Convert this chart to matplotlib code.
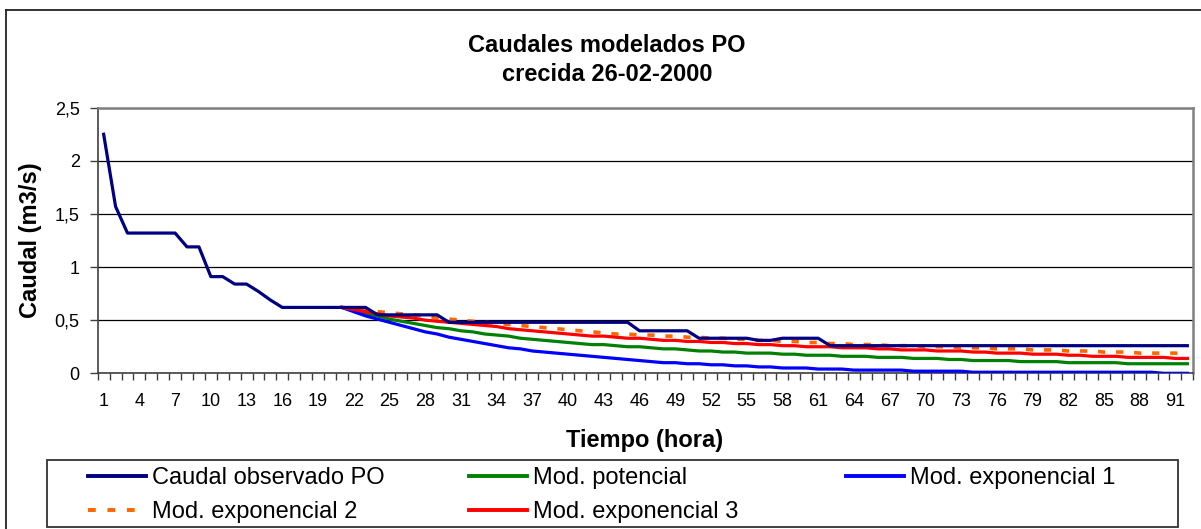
import matplotlib
matplotlib.use('Agg')
import matplotlib.pyplot as plt
from matplotlib.patches import Rectangle
from matplotlib.lines import Line2D

# ---------------- data ----------------
hours = list(range(1, 93))
observed = [2.25, 1.57, 1.32, 1.32, 1.32, 1.32, 1.32, 1.19, 1.19, 0.91,
            0.91, 0.84, 0.84, 0.77, 0.69, 0.62, 0.62, 0.62, 0.62, 0.62,
            0.62, 0.62, 0.62, 0.55, 0.55, 0.55, 0.55, 0.55, 0.55, 0.48,
            0.48, 0.48, 0.48, 0.48, 0.48, 0.48, 0.48, 0.48, 0.48, 0.48,
            0.48, 0.48, 0.48, 0.48, 0.48, 0.40, 0.40, 0.40, 0.40, 0.40,
            0.33, 0.33, 0.33, 0.33, 0.33, 0.31, 0.31, 0.33, 0.33, 0.33,
            0.33, 0.26, 0.26, 0.26, 0.26, 0.26, 0.26, 0.26, 0.26, 0.26,
            0.26, 0.26, 0.26, 0.26, 0.26, 0.26, 0.26, 0.26, 0.26, 0.26,
            0.26, 0.26, 0.26, 0.26, 0.26, 0.26, 0.26, 0.26, 0.26, 0.26,
            0.26, 0.26]

model_hours = list(range(21, 93))
mod_potencial = [0.62, 0.59, 0.56, 0.54, 0.51, 0.49, 0.47, 0.45, 0.43, 0.42,
                 0.40, 0.39, 0.37, 0.36, 0.35, 0.33, 0.32, 0.31, 0.30, 0.29,
                 0.28, 0.27, 0.27, 0.26, 0.25, 0.25, 0.24, 0.23, 0.23, 0.22,
                 0.21, 0.21, 0.20, 0.20, 0.19, 0.19, 0.19, 0.18, 0.18, 0.17,
                 0.17, 0.17, 0.16, 0.16, 0.16, 0.15, 0.15, 0.15, 0.14, 0.14,
                 0.14, 0.13, 0.13, 0.12, 0.12, 0.12, 0.12, 0.11, 0.11, 0.11,
                 0.11, 0.10, 0.10, 0.10, 0.10, 0.10, 0.09, 0.09, 0.09, 0.09,
                 0.09, 0.09]
mod_exp1 = [0.62, 0.58, 0.54, 0.51, 0.48, 0.45, 0.42, 0.39, 0.37, 0.34,
            0.32, 0.30, 0.28, 0.26, 0.24, 0.23, 0.21, 0.20, 0.19, 0.18,
            0.17, 0.16, 0.15, 0.14, 0.13, 0.12, 0.11, 0.10, 0.10, 0.09,
            0.09, 0.08, 0.08, 0.07, 0.07, 0.06, 0.06, 0.05, 0.05, 0.05,
            0.04, 0.04, 0.04, 0.03, 0.03, 0.03, 0.03, 0.03, 0.02, 0.02,
            0.02, 0.02, 0.02, 0.01, 0.01, 0.01, 0.01, 0.01, 0.01, 0.01,
            0.01, 0.01, 0.01, 0.01, 0.01, 0.01, 0.01, 0.01, 0.01, 0.00,
            0.00, 0.00]
mod_exp2 = [0.62, 0.61, 0.60, 0.58, 0.57, 0.56, 0.55, 0.54, 0.52, 0.51,
            0.50, 0.49, 0.48, 0.47, 0.46, 0.45, 0.44, 0.43, 0.42, 0.41,
            0.40, 0.39, 0.38, 0.37, 0.37, 0.36, 0.36, 0.35, 0.35, 0.34,
            0.34, 0.33, 0.33, 0.32, 0.32, 0.31, 0.31, 0.30, 0.30, 0.29,
            0.29, 0.28, 0.28, 0.27, 0.27, 0.27, 0.26, 0.26, 0.26, 0.25,
            0.25, 0.25, 0.24, 0.24, 0.24, 0.23, 0.23, 0.23, 0.22, 0.22,
            0.22, 0.21, 0.21, 0.21, 0.20, 0.20, 0.20, 0.19, 0.19, 0.19,
            0.19, 0.18]
mod_exp3 = [0.62, 0.60, 0.58, 0.56, 0.54, 0.53, 0.52, 0.50, 0.49, 0.48,
            0.47, 0.46, 0.45, 0.44, 0.42, 0.41, 0.40, 0.39, 0.38, 0.37,
            0.36, 0.35, 0.35, 0.34, 0.33, 0.33, 0.32, 0.31, 0.31, 0.30,
            0.30, 0.29, 0.29, 0.28, 0.28, 0.27, 0.27, 0.26, 0.26, 0.25,
            0.25, 0.25, 0.24, 0.24, 0.24, 0.23, 0.23, 0.22, 0.22, 0.22,
            0.21, 0.21, 0.21, 0.20, 0.20, 0.19, 0.19, 0.19, 0.18, 0.18,
            0.18, 0.17, 0.17, 0.16, 0.16, 0.16, 0.15, 0.15, 0.15, 0.15,
            0.14, 0.14]

y_ticks = [0, 0.5, 1, 1.5, 2, 2.5]
y_tick_labels = ['0', '0,5', '1', '1,5', '2', '2,5']
x_tick_pos = list(range(1, 93, 3))
x_tick_labels = [str(v) for v in x_tick_pos]

title = 'Caudales modelados PO\ncrecida 26-02-2000'
x_label = 'Tiempo (hora)'
y_label = 'Caudal (m3/s)'
names = ['Caudal observado PO', 'Mod. potencial', 'Mod. exponencial 1',
         'Mod. exponencial 2', 'Mod. exponencial 3']

# ---------------- figure ----------------
plt.rcParams['font.family'] = ['Liberation Sans', 'DejaVu Sans']
W, H = 1201, 529
fig = plt.figure(figsize=(W / 100, H / 100), dpi=100)


def fx(px):
    return px / W


def fy(py):
    return 1 - py / H


left, right, top, bottom = 97.7, 1193.3, 107.7, 373.3
ax = fig.add_axes([fx(left), fy(bottom), fx(right) - fx(left), fy(top) - fy(bottom)])

lw = 2.3
h_obs, = ax.plot(hours, observed, color='#000080', lw=lw, zorder=5)
h_pot, = ax.plot(model_hours, mod_potencial, color='#008000', lw=lw, zorder=4)
h_e1, = ax.plot(model_hours, mod_exp1, color='#0000FF', lw=lw, zorder=4)
h_e2, = ax.plot(model_hours, mod_exp2, color='#FF6600', lw=2.6,
                ls=(0, (2.0, 3.0)), zorder=4)
h_e3, = ax.plot(model_hours, mod_exp3, color='#FF0000', lw=lw, zorder=4)

ax.set_xlim(0.5, 92.5)
ax.set_ylim(0, 2.5)
ax.set_yticks(y_ticks)
ax.set_yticklabels(y_tick_labels, fontsize=13)
ax.yaxis.grid(True, color='black', lw=0.9)
ax.set_axisbelow(True)
ax.tick_params(axis='y', length=6, width=1, color='#404040', pad=7)

ax.set_xticks(x_tick_pos)
ax.set_xticklabels(x_tick_labels, fontsize=13)
ax.set_xticks([v + 0.5 for v in range(0, 93)], minor=True)
ax.tick_params(axis='x', which='major', length=0, pad=14)
ax.tick_params(axis='x', which='minor', length=5, width=1, color='#404040')

for s in ['left', 'bottom']:
    ax.spines[s].set_color('#404040')
    ax.spines[s].set_linewidth(1.2)
for s in ['top', 'right']:
    ax.spines[s].set_color('#808080')
    ax.spines[s].set_linewidth(1.8)

# titles and axis labels
fig.text(fx(607), fy(60), title, ha='center', va='center', fontsize=17,
         fontweight='bold', linespacing=1.35)
fig.text(fx(645), fy(440), x_label, ha='center', va='center', fontsize=17,
         fontweight='bold')
fig.text(fx(31), fy(240.5), y_label, ha='center', va='center', fontsize=17,
         fontweight='bold', rotation=90)

# outer chart frame
fig.add_artist(Line2D([fx(6), fx(6)], [fy(10), 0], color='#222222', lw=1.3,
                      transform=fig.transFigure))
fig.add_artist(Line2D([fx(6), 1], [fy(10), fy(10)], color='#222222', lw=1.3,
                      transform=fig.transFigure))

# legend frame
fig.add_artist(Rectangle((fx(47.3), fy(526.7)), fx(1178) - fx(47.3),
                         fy(460) - fy(526.7), fill=False, ec='#333333', lw=1.3,
                         transform=fig.transFigure))

leg_kw = dict(frameon=False, fontsize=17, handlelength=2.46, handletextpad=0.25,
              labelspacing=0.5, borderpad=0, borderaxespad=0, loc='upper left')
col_x = [88, 469, 846]
cols = [([h_obs, h_e2], [names[0], names[3]]),
        ([h_pot, h_e3], [names[1], names[4]]),
        ([h_e1], [names[2]])]
for cx, (hs, ls) in zip(col_x, cols):
    lg = fig.legend(hs, ls, bbox_to_anchor=(fx(cx), fy(467)),
                    bbox_transform=fig.transFigure, **leg_kw)
    for ln in lg.get_lines():
        ln.set_linewidth(2.8)

fig.savefig('out.png', dpi=100)
